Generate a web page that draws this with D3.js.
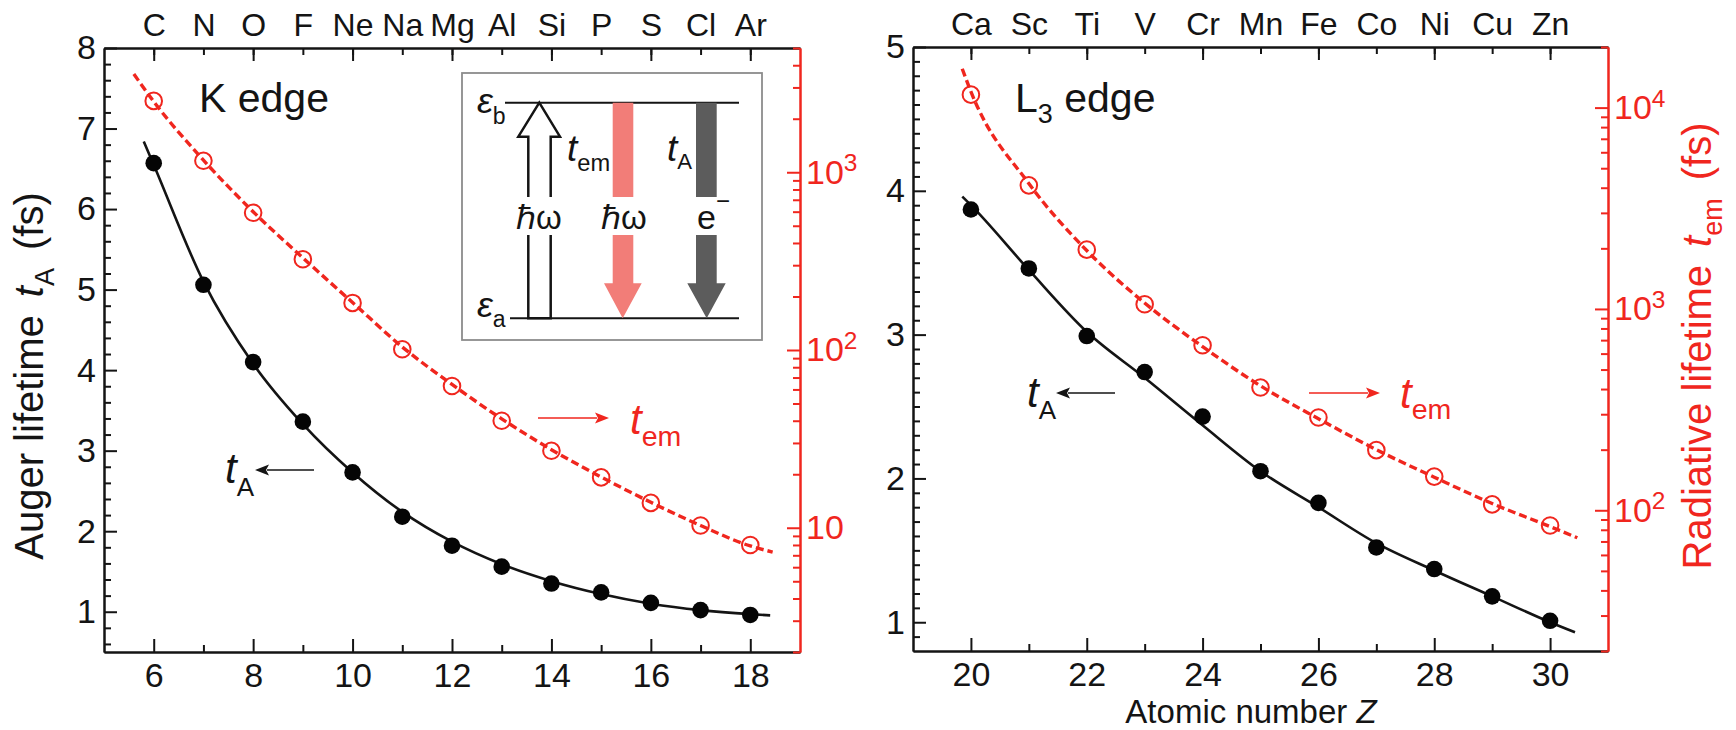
<!DOCTYPE html>
<html>
<head>
<meta charset="utf-8">
<script src="https://cdn.jsdelivr.net/npm/d3@7"></script>
<style>
  html, body { margin: 0; padding: 0; background: #fff; }
  svg { display: block; }
</style>
</head>
<body>
<svg id="chart" width="1736" height="730"></svg>
<script>
// ---- K edge: second-row elements ----
const kElements = ["C", "N", "O", "F", "Ne", "Na", "Mg", "Al", "Si", "P", "S", "Cl", "Ar"];
const kZ = [6, 7, 8, 9, 10, 11, 12, 13, 14, 15, 16, 17, 18];
const kAugerFs = [6.57, 5.06, 4.10, 3.36, 2.73, 2.18, 1.82, 1.56, 1.35, 1.24, 1.11, 1.02, 0.96];
const kRadiativeFs = [2520, 1160, 592, 324, 184, 101, 62.7, 40.0, 27.1, 19.2, 13.8, 10.3, 8.0];
// fitted curves
const kAugerFitZ = [5.8, 6, 7, 8, 9, 10, 11, 12, 13, 14, 15, 16, 17, 18, 18.4];
const kAugerFitFs = [6.84, 6.55, 5.10, 4.08, 3.33, 2.73, 2.24, 1.87, 1.59, 1.38, 1.22, 1.10, 1.02, 0.97, 0.955];
const kRadFitZ = [5.6, 6, 7, 8, 9, 10, 11, 12, 13, 14, 15, 16, 17, 18, 18.45];
const kRadFitFs = [3570, 2500, 1170, 600, 330, 185, 104, 64, 41, 27.5, 19.3, 13.9, 10.3, 7.9, 7.3];

// ---- L3 edge: 3d transition metals ----
const lElements = ["Ca", "Sc", "Ti", "V", "Cr", "Mn", "Fe", "Co", "Ni", "Cu", "Zn"];
const lZ = [20, 21, 22, 23, 24, 25, 26, 27, 28, 29, 30];
const lAugerFs = [3.87, 3.46, 2.99, 2.74, 2.43, 2.05, 1.83, 1.52, 1.37, 1.18, 1.01];
const lRadiativeFs = [11600, 4110, 1970, 1055, 660, 407, 289, 199, 147, 107, 84];
const lAugerFitZ = [19.85, 20, 21, 22, 23, 24, 25, 26, 27, 28, 29, 30, 30.43];
const lAugerFitFs = [3.96, 3.90, 3.45, 3.02, 2.70, 2.37, 2.05, 1.80, 1.55, 1.36, 1.18, 1.00, 0.93];
const lRadFitZ = [19.85, 20, 21, 22, 23, 24, 25, 26, 27, 28, 29, 30, 30.47];
const lRadFitFs = [15600, 12000, 4200, 1950, 1070, 650, 415, 285, 200, 146, 108, 83, 73];

// ---- tick values ----
const kZTicks = [6, 8, 10, 12, 14, 16, 18];
const kAugerTicks = [1, 2, 3, 4, 5, 6, 7, 8];
const kRadTicks = [10, 100, 1000];
const lZTicks = [20, 22, 24, 26, 28, 30];
const lAugerTicks = [1, 2, 3, 4, 5];
const lRadTicks = [100, 1000, 10000];

const INK = "#141414";
const RED = "#f0261e";
const FONT = '"Liberation Sans", Arial, Helvetica, sans-serif';
const TICK_FS = 34;
const ELEM_FS = 32;

const svg = d3.select("#chart").attr("font-family", FONT);

const panels = [
  {
    left: 104, right: 800, top: 48, bottom: 652,
    zDomain: [5, 19], tDomain: [0.5, 8], rDomain: [2, 5000],
    tMinor: d3.range(3, 40).map(i => i * 0.2),
    elements: kElements, z: kZ, zTicks: kZTicks, tTicks: kAugerTicks, rTicks: kRadTicks,
    auger: kAugerFs, rad: kRadiativeFs,
    augerFit: kAugerFitZ.map((z, i) => [z, kAugerFitFs[i]]),
    radFit: kRadFitZ.map((z, i) => [z, kRadFitFs[i]])
  },
  {
    left: 913, right: 1608, top: 47, bottom: 651,
    zDomain: [19, 31], tDomain: [0.8, 5], rDomain: [20, 20000],
    tMinor: d3.range(9, 50).map(i => i / 10),
    elements: lElements, z: lZ, zTicks: lZTicks, tTicks: lAugerTicks, rTicks: lRadTicks,
    auger: lAugerFs, rad: lRadiativeFs,
    augerFit: lAugerFitZ.map((z, i) => [z, lAugerFitFs[i]]),
    radFit: lRadFitZ.map((z, i) => [z, lRadFitFs[i]])
  }
];

function styleAxis(sel, color, size) {
  sel.attr("font-family", null).attr("font-size", null);
  sel.select(".domain").attr("stroke", color).attr("stroke-width", 2);
  sel.selectAll(".tick line").attr("stroke", color).attr("stroke-width", 2);
  sel.selectAll(".tick text").attr("fill", color).attr("font-size", size).attr("font-family", FONT);
}

function isInt(v) { return Math.abs(v - Math.round(v)) < 1e-6; }

function drawPanel(p) {
  const g = svg.append("g");
  const x = d3.scaleLinear().domain(p.zDomain).range([p.left, p.right]);
  const y = d3.scaleLinear().domain(p.tDomain).range([p.bottom, p.top]);
  const yr = d3.scaleLog().domain(p.rDomain).range([p.bottom, p.top]);

  // bottom axis: atomic number
  g.append("g").attr("transform", `translate(0,${p.bottom})`)
    .call(d3.axisBottom(x).tickValues(p.z.filter(z => z % 2 === 1)).tickSize(-7).tickSizeOuter(0).tickFormat(""))
    .call(s => styleAxis(s, INK, TICK_FS));
  g.append("g").attr("transform", `translate(0,${p.bottom})`)
    .call(d3.axisBottom(x).tickValues(p.zTicks).tickSize(-13).tickSizeOuter(0).tickPadding(11))
    .call(s => styleAxis(s, INK, TICK_FS));

  // top axis: element symbols
  g.append("g").attr("transform", `translate(0,${p.top})`)
    .call(d3.axisTop(x).tickValues(p.z).tickSize(-7).tickSizeOuter(0).tickPadding(12)
      .tickFormat((d, i) => p.elements[i]))
    .call(s => styleAxis(s, INK, ELEM_FS));
  g.append("g").attr("transform", `translate(0,${p.top})`)
    .call(d3.axisTop(x).tickValues(p.zTicks).tickSize(-13).tickSizeOuter(0).tickFormat(""))
    .call(s => styleAxis(s, INK, ELEM_FS));

  // left axis: Auger lifetime (linear)
  g.append("g").attr("transform", `translate(${p.left},0)`)
    .call(d3.axisLeft(y).tickValues(p.tMinor.filter(v => !isInt(v))).tickSize(-7).tickSizeOuter(0).tickFormat(""))
    .call(s => styleAxis(s, INK, TICK_FS));
  g.append("g").attr("transform", `translate(${p.left},0)`)
    .call(d3.axisLeft(y).tickValues(p.tTicks).tickSize(-13).tickSizeOuter(0).tickPadding(8).tickFormat(d3.format("d")))
    .call(s => styleAxis(s, INK, TICK_FS));

  // right axis: radiative lifetime (log)
  const rMinor = yr.ticks().filter(v => !p.rTicks.some(m => Math.abs(m - v) < 1e-6));
  g.append("g").attr("transform", `translate(${p.right},0)`)
    .call(d3.axisRight(yr).tickValues(rMinor).tickSize(-7).tickSizeOuter(0).tickFormat(""))
    .call(s => styleAxis(s, RED, TICK_FS));
  g.append("g").attr("transform", `translate(${p.right},0)`)
    .call(d3.axisRight(yr).tickValues(p.rTicks).tickSize(-13).tickSizeOuter(0).tickPadding(6).tickFormat(() => ""))
    .call(s => styleAxis(s, RED, TICK_FS))
    .call(s => s.selectAll(".tick text").each(function (d) {
      const e = Math.round(Math.log10(d));
      const t = d3.select(this);
      t.text("10");
      if (e !== 1) t.append("tspan").attr("dy", "-0.5em").attr("font-size", "0.72em").text(e);
    }));

  // fitted curves
  const fitLine = sc => d3.line().x(d => x(d[0])).y(d => sc(d[1])).curve(d3.curveMonotoneX);
  g.append("path").datum(p.augerFit).attr("d", fitLine(y))
    .attr("fill", "none").attr("stroke", INK).attr("stroke-width", 2.6);
  g.append("path").datum(p.radFit).attr("d", fitLine(yr))
    .attr("fill", "none").attr("stroke", RED).attr("stroke-width", 3.4).attr("stroke-dasharray", "8,4");

  // measured points
  g.append("g").selectAll("circle").data(p.z).join("circle")
    .attr("cx", d => x(d)).attr("cy", (d, i) => y(p.auger[i])).attr("r", 8.3).attr("fill", "#050505");
  g.append("g").selectAll("circle").data(p.z).join("circle")
    .attr("cx", d => x(d)).attr("cy", (d, i) => yr(p.rad[i])).attr("r", 8.3)
    .attr("fill", "none").attr("stroke", RED).attr("stroke-width", 2);
}

panels.forEach(drawPanel);

// ---- text helpers ----
function subText(g, xPos, yPos, main, sub, size, color, opts = {}) {
  const t = g.append("text").attr("x", xPos).attr("y", yPos).attr("fill", color)
    .attr("font-size", size).attr("font-family", FONT);
  t.append("tspan").attr("font-style", "italic").text(main);
  t.append("tspan").attr("dy", size * (opts.drop ?? 0.3)).attr("dx", opts.subDx ?? 0)
    .attr("font-size", size * (opts.subScale ?? 0.66)).text(sub);
  return t;
}

function arrow(g, x1, y1, x2, y2, color, width = 1.7) {
  const ang = Math.atan2(y2 - y1, x2 - x1);
  const L = 14, W = 5.5;
  const bx = x2 - L * Math.cos(ang), by = y2 - L * Math.sin(ang);
  g.append("line").attr("x1", x1).attr("y1", y1).attr("x2", bx + 2 * Math.cos(ang)).attr("y2", by + 2 * Math.sin(ang))
    .attr("stroke", color).attr("stroke-width", width);
  g.append("path")
    .attr("d", `M${x2},${y2}L${bx - W * Math.sin(ang)},${by + W * Math.cos(ang)}L${bx + 3 * Math.cos(ang)},${by + 3 * Math.sin(ang)}L${bx + W * Math.sin(ang)},${by - W * Math.cos(ang)}Z`)
    .attr("fill", color);
}

const ann = svg.append("g");

// panel captions
ann.append("text").attr("x", 199).attr("y", 112).attr("font-size", 41).attr("fill", INK).text("K edge");
{
  const t = ann.append("text").attr("x", 1015).attr("y", 112).attr("font-size", 41).attr("fill", INK);
  t.append("tspan").text("L");
  t.append("tspan").attr("dy", 11).attr("font-size", 27).text("3");
  t.append("tspan").attr("dy", -11).text(" edge");
}

// series labels with arrows
subText(ann, 225, 483, "t", "A", 42, INK, { drop: 0.3, subScale: 0.62 });
arrow(ann, 314, 470, 255, 470, INK);
arrow(ann, 538, 418, 609, 418, RED);
subText(ann, 630, 434, "t", "em", 42, RED, { drop: 0.28, subScale: 0.68 });

subText(ann, 1027, 407, "t", "A", 42, INK, { drop: 0.28, subScale: 0.62 });
arrow(ann, 1115, 393, 1056, 393, INK);
arrow(ann, 1309, 393, 1380, 393, RED);
subText(ann, 1400, 408, "t", "em", 42, RED, { drop: 0.25, subScale: 0.68 });

// axis titles
{
  const t = ann.append("text").attr("transform", "translate(43,376) rotate(-90)")
    .attr("text-anchor", "middle").attr("font-size", 40).attr("fill", INK);
  t.append("tspan").text("Auger lifetime");
  t.append("tspan").attr("dx", 18).attr("font-style", "italic").text("t");
  t.append("tspan").attr("dy", 11).attr("font-size", 27).text("A");
  t.append("tspan").attr("dy", -11).attr("dx", 18).text("(fs)");
}
{
  const t = ann.append("text").attr("transform", "translate(1711,346) rotate(-90)")
    .attr("text-anchor", "middle").attr("font-size", 40).attr("fill", RED);
  t.append("tspan").text("Radiative lifetime");
  t.append("tspan").attr("dx", 18).attr("font-style", "italic").text("t");
  t.append("tspan").attr("dy", 11).attr("font-size", 27).text("em");
  t.append("tspan").attr("dy", -11).attr("dx", 18).text("(fs)");
}
{
  const t = ann.append("text").attr("x", 1251).attr("y", 723).attr("text-anchor", "middle")
    .attr("font-size", 33).attr("fill", INK);
  t.append("tspan").text("Atomic number ");
  t.append("tspan").attr("font-style", "italic").text("Z");
}

// ---- level scheme inset ----
const ins = svg.append("g").attr("transform", "translate(462,73)");
ins.append("rect").attr("width", 300).attr("height", 267)
  .attr("fill", "#fff").attr("stroke", "#8c8c8c").attr("stroke-width", 1.8);
const yb = 29.7, ya = 245.3;
ins.append("line").attr("x1", 43).attr("x2", 277).attr("y1", yb).attr("y2", yb).attr("stroke", INK).attr("stroke-width", 2);
ins.append("line").attr("x1", 48).attr("x2", 277).attr("y1", ya).attr("y2", ya).attr("stroke", INK).attr("stroke-width", 2);

// absorption (open arrow, upward)
ins.append("path")
  .attr("d", `M66.3,${ya}V63.7H56.3L77.3,${yb}L98,63.7H88.7V${ya}Z`)
  .attr("fill", "#fff").attr("stroke", INK).attr("stroke-width", 2.5).attr("stroke-linejoin", "miter");
// radiative decay (red arrow, downward)
ins.append("path")
  .attr("d", `M150.7,${yb}H171.3V210.3H179.7L160.7,${ya}L142,210.3H150.7Z`)
  .attr("fill", "#f27d78");
// Auger decay (grey arrow, downward)
ins.append("path")
  .attr("d", `M234,${yb}H254.7V210.3H263.7L244.7,${ya}L225.3,210.3H234Z`)
  .attr("fill", "#5c5c5c");

// gaps for the arrow labels
[[52, 50], [138, 48], [222, 50]].forEach(([gx, gw]) =>
  ins.append("rect").attr("x", gx).attr("y", 124).attr("width", gw).attr("height", 38).attr("fill", "#fff"));

ins.append("text").attr("x", 77).attr("y", 156).attr("text-anchor", "middle")
  .attr("font-size", 33).attr("fill", INK).text("ℏω");
ins.append("text").attr("x", 162).attr("y", 156).attr("text-anchor", "middle")
  .attr("font-size", 33).attr("fill", INK).text("ℏω");
{
  const t = ins.append("text").attr("x", 235).attr("y", 156).attr("font-size", 34).attr("fill", INK);
  t.append("tspan").text("e");
  t.append("tspan").attr("dy", -20).attr("font-size", 24).text("−");
}

subText(ins, 15, 40, "ε", "b", 36, INK, { drop: 0.3, subScale: 0.64 });
subText(ins, 15, 244, "ε", "a", 36, INK, { drop: 0.27, subScale: 0.64 });
subText(ins, 105, 88, "t", "em", 37, INK, { drop: 0.27, subScale: 0.64 });
subText(ins, 205, 88, "t", "A", 37, INK, { drop: 0.22, subScale: 0.6 });
</script>
</body>
</html>
